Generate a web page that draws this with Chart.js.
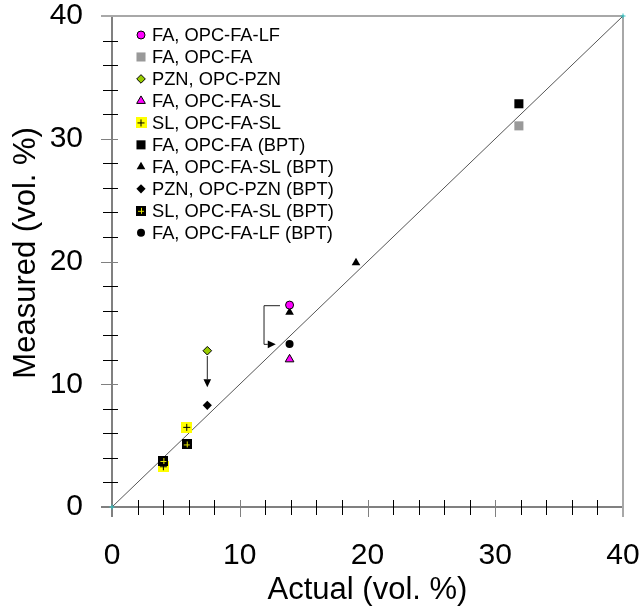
<!DOCTYPE html>
<html>
<head>
<meta charset="utf-8">
<script src="https://cdn.jsdelivr.net/npm/chart.js@4/dist/chart.umd.min.js"></script>
<style>
html,body{margin:0;padding:0;background:#ffffff;}
#wrap{position:relative;width:641px;height:613px;}
</style>
</head>
<body>
<div id="wrap"><canvas id="c" width="641" height="613"></canvas></div>
<script>
// ---------- data ----------
const seriesLabels = [
  'FA, OPC-FA-LF',
  'FA, OPC-FA',
  'PZN, OPC-PZN',
  'FA, OPC-FA-SL',
  'SL, OPC-FA-SL',
  'FA, OPC-FA (BPT)',
  'FA, OPC-FA-SL (BPT)',
  'PZN, OPC-PZN (BPT)',
  'SL, OPC-FA-SL (BPT)',
  'FA, OPC-FA-LF (BPT)'
];
const faLfX = [13.9];            const faLfY = [16.45];
const faX = [31.85];             const faY = [31.05];
const pznX = [7.46];             const pznY = [12.73];
const faSlX = [13.9];            const faSlY = [12.03];
const slX = [5.85, 4.02];        const slY = [6.49, 3.28];
const faBptX = [31.85];          const faBptY = [32.85];
const faSlBptX = [13.9, 19.1];   const faSlBptY = [15.86, 19.9];
const pznBptX = [7.46];          const pznBptY = [8.28];
const slBptX = [5.85, 4.02];     const slBptY = [5.1, 3.75];
const faLfBptX = [13.9];         const faLfBptY = [13.28];

const lineX = [0, 40];           const lineY = [0, 40];

// arrows (data coordinates), last point is the arrow tip
const arrow1X = [7.46, 7.46];                 const arrow1Y = [12.3, 9.75];
const arrow2X = [13.15, 11.9, 11.9, 12.82];   const arrow2Y = [16.4, 16.4, 13.25, 13.25];

const axisMin = 0, axisMax = 40, minorStep = 2;
const tickLabelValues = [0, 10, 20, 30, 40];
const tickLabels = ['0', '10', '20', '30', '40'];
const xTitle = 'Actual (vol. %)';
const yTitle = '  Measured (vol. %)';

// ---------- helpers ----------
const FAMILY = '"Liberation Sans", Arial, "DejaVu Sans", sans-serif';
function pts(xs, ys) { return xs.map((x, i) => ({ x: x, y: ys[i] })); }

function plusSquare(size, bg, fg) {
  const c = document.createElement('canvas');
  c.width = size; c.height = size;
  const g = c.getContext('2d');
  g.fillStyle = bg; g.fillRect(0, 0, size, size);
  g.fillStyle = fg;
  const mid = Math.floor(size / 2);
  g.fillRect(2, mid, size - 4, 1);
  g.fillRect(mid, 2, 1, size - 4);
  return c;
}
const yellowPlus = plusSquare(11, '#ffff00', '#000000');
const blackPlus = plusSquare(10, '#000000', '#e8e800');

function mk(i, xs, ys, style, radius, bg, border, bw, order) {
  return {
    label: seriesLabels[i], legendRow: i, data: pts(xs, ys), showLine: false,
    pointStyle: style, pointRadius: radius, pointHoverRadius: radius,
    pointBackgroundColor: bg, pointBorderColor: border, pointBorderWidth: bw,
    backgroundColor: bg, borderColor: border, order: order || 0, clip: false
  };
}

const datasets = [
  mk(0, faLfX, faLfY, 'circle', 4, '#ff00ff', '#000000', 1),
  mk(1, faX, faY, 'rect', 6.4, '#999999', '#999999', 0),
  mk(2, pznX, pznY, 'rectRot', 4.3, '#99cc00', '#000000', 1),
  mk(3, faSlX, faSlY, 'triangle', 5, '#ff00ff', '#000000', 1),
  mk(4, slX, slY, yellowPlus, 5, '#ffff00', '#000000', 0, 2),
  mk(5, faBptX, faBptY, 'rect', 6.4, '#000000', '#000000', 0),
  mk(6, faSlBptX, faSlBptY, 'triangle', 5, '#000000', '#000000', 0),
  mk(7, pznBptX, pznBptY, 'rectRot', 4.6, '#000000', '#000000', 0),
  mk(8, slBptX, slBptY, blackPlus, 5, '#000000', '#000000', 0),
  mk(9, faLfBptX, faLfBptY, 'circle', 4, '#000000', '#000000', 0),
  {
    label: 'line', noLegend: true, data: pts(lineX, lineY), showLine: true,
    borderColor: '#555555', borderWidth: 1, pointStyle: 'cross', pointRadius: 2.5,
    pointBorderColor: '#2ec4c4', pointBackgroundColor: '#2ec4c4', pointBorderWidth: 1,
    order: 10, clip: false, fill: false
  }
];

// ---------- plugins ----------
const axesPlugin = {
  id: 'axesDeco',
  beforeDatasetsDraw(chart) {
    const { ctx, chartArea: a, scales } = chart;
    const xs = scales.x, ys = scales.y;
    ctx.save();
    // frame top & right
    ctx.strokeStyle = '#a8a8a8'; ctx.lineWidth = 2;
    ctx.beginPath();
    ctx.moveTo(a.left - 11, a.top); ctx.lineTo(a.right, a.top);
    ctx.lineTo(a.right, a.bottom + 10);
    ctx.stroke();
    // axis extensions at 0
    ctx.strokeStyle = '#808080'; ctx.lineWidth = 2;
    ctx.beginPath();
    ctx.moveTo(a.left - 11, a.bottom); ctx.lineTo(a.left, a.bottom);
    ctx.moveTo(a.left, a.bottom); ctx.lineTo(a.left, a.bottom + 10);
    ctx.stroke();
    // ticks crossing axes
    ctx.lineWidth = 1;
    xs.ticks.forEach(t => {
      if (t.value === axisMin || t.value === axisMax) return;
      const major = tickLabelValues.includes(t.value);
      const px = Math.round(xs.getPixelForValue(t.value)) + 0.5;
      ctx.strokeStyle = major ? '#808080' : '#000000';
      ctx.beginPath();
      ctx.moveTo(px, a.bottom - 7); ctx.lineTo(px, a.bottom + (major ? 10 : 8));
      ctx.stroke();
    });
    ys.ticks.forEach(t => {
      if (t.value === axisMin || t.value === axisMax) return;
      const major = tickLabelValues.includes(t.value);
      const py = Math.round(ys.getPixelForValue(t.value)) + 0.5;
      ctx.strokeStyle = major ? '#808080' : '#000000';
      ctx.beginPath();
      ctx.moveTo(a.left - (major ? 11 : 9), py); ctx.lineTo(a.left + 6, py);
      ctx.stroke();
    });
    ctx.restore();
  },
  afterDatasetsDraw(chart) {
    const { ctx, scales } = chart;
    const xs = scales.x, ys = scales.y;
    ctx.save();
    ctx.strokeStyle = '#222222'; ctx.fillStyle = '#000000'; ctx.lineWidth = 1;
    [[arrow1X, arrow1Y], [arrow2X, arrow2Y]].forEach(([ax, ay]) => {
      const P = ax.map((v, i) => [xs.getPixelForValue(v), ys.getPixelForValue(ay[i])]);
      const n = P.length;
      const tip = P[n - 1], prev = P[n - 2];
      const ang = Math.atan2(tip[1] - prev[1], tip[0] - prev[0]);
      const L = 8, W = 3.8;
      const base = [tip[0] - L * Math.cos(ang), tip[1] - L * Math.sin(ang)];
      ctx.beginPath();
      ctx.moveTo(P[0][0], P[0][1]);
      for (let i = 1; i < n - 1; i++) ctx.lineTo(P[i][0], P[i][1]);
      ctx.lineTo(base[0], base[1]);
      ctx.stroke();
      ctx.beginPath();
      ctx.moveTo(tip[0], tip[1]);
      ctx.lineTo(base[0] + W * Math.sin(ang), base[1] - W * Math.cos(ang));
      ctx.lineTo(base[0] - W * Math.sin(ang), base[1] + W * Math.cos(ang));
      ctx.closePath();
      ctx.fill();
    });
    ctx.restore();
  }
};

const LEGEND_X = 141, LEGEND_TEXT_X = 152, LEGEND_TOP = 35, LEGEND_STEP = 21.97;
const legendPlugin = {
  id: 'insideLegend',
  afterDraw(chart) {
    const ctx = chart.ctx;
    ctx.save();
    chart.data.datasets.forEach(ds => {
      if (ds.noLegend) return;
      const yy = LEGEND_TOP + ds.legendRow * LEGEND_STEP;
      ctx.fillStyle = ds.pointBackgroundColor;
      ctx.strokeStyle = ds.pointBorderColor;
      ctx.lineWidth = ds.pointBorderWidth;
      Chart.helpers.drawPoint(ctx, {
        pointStyle: ds.pointStyle, radius: ds.pointRadius,
        borderWidth: ds.pointBorderWidth, rotation: 0
      }, LEGEND_X, yy);
      ctx.fillStyle = '#000000';
      ctx.font = '18.3px ' + FAMILY;
      ctx.textAlign = 'left';
      ctx.textBaseline = 'middle';
      ctx.fillText(ds.label, LEGEND_TEXT_X, yy + 1);
    });
    ctx.restore();
  }
};

function tickCb(v) {
  const k = tickLabelValues.indexOf(v);
  return k >= 0 ? tickLabels[k] : '';
}

function scaleOpts(isX) {
  return {
    type: 'linear', min: axisMin, max: axisMax,
    afterFit(s) {
      if (isX) s.height = 106; else s.width = 112;
      s.paddingTop = 0; s.paddingBottom = 0; s.paddingLeft = 0; s.paddingRight = 0;
    },
    ticks: {
      stepSize: minorStep, autoSkip: false, maxRotation: 0, minRotation: 0,
      padding: isX ? 22 : 20, color: '#000000',
      font: { family: FAMILY, size: 30 }, callback: tickCb
    },
    grid: {
      display: true, drawOnChartArea: false, drawTicks: true, tickLength: 9,
      color: 'rgba(0,0,0,0)', tickColor: 'rgba(0,0,0,0)'
    },
    border: { display: true, color: '#808080', width: 2 },
    title: {
      display: true, text: isX ? xTitle : yTitle, color: '#000000',
      font: { family: FAMILY, size: 31 },
      padding: isX ? { top: 0, bottom: 4 } : { top: 8, bottom: 0 }
    }
  };
}

new Chart(document.getElementById('c'), {
  type: 'scatter',
  data: { datasets: datasets },
  options: {
    responsive: false, animation: false, devicePixelRatio: 1,
    layout: { padding: { left: 0, right: 18, top: 16, bottom: 0 }, autoPadding: false },
    plugins: { legend: { display: false }, tooltip: { enabled: false } },
    events: [],
    scales: { x: scaleOpts(true), y: scaleOpts(false) }
  },
  plugins: [axesPlugin, legendPlugin]
});
</script>
</body>
</html>
